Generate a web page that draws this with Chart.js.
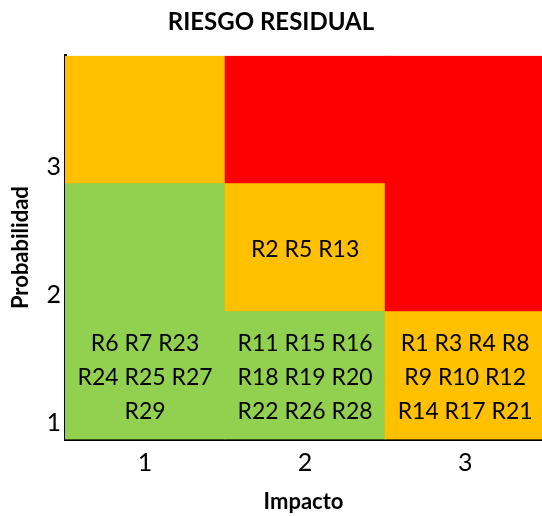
<!DOCTYPE html>
<html>
<head>
<meta charset="utf-8">
<script src="https://cdn.jsdelivr.net/npm/chart.js@4/dist/chart.umd.min.js"></script>
<style>
html,body{margin:0;padding:0;background:#fff;}
canvas{display:block;}
</style>
</head>
<body>
<canvas id="c" width="542" height="516"></canvas>
<script>
// Data
const impacto = [1, 2, 3];                 // x values (columns)
const probabilidad = [1, 2, 3];            // y tick values
const rowRanges = [[0.87, 1.87], [1.87, 2.87], [2.87, 3.87]]; // cell extents per probability row
const levelColors = { bajo: '#92D050', medio: '#FFC000', alto: '#FF0000' };
const levelsRow1 = ['bajo', 'bajo', 'medio'];
const levelsRow2 = ['bajo', 'medio', 'alto'];
const levelsRow3 = ['medio', 'alto', 'alto'];
const labelsRow1 = [
  ['R6 R7 R23', 'R24 R25 R27', 'R29'],
  ['R11 R15 R16', 'R18 R19 R20', 'R22 R26 R28'],
  ['R1 R3 R4 R8', 'R9 R10 R12', 'R14 R17 R21']
];
const labelsRow2 = [[], ['R2 R5 R13'], []];
const labelsRow3 = [[], [], []];

const levels = [levelsRow1, levelsRow2, levelsRow3];
const labels = [labelsRow1, labelsRow2, labelsRow3];

const datasets = rowRanges.map((rng, r) => ({
  data: impacto.map(x => ({ x: x, y: rng })),
  backgroundColor: levels[r].map(l => levelColors[l]),
  borderWidth: 0,
  barPercentage: 1,
  categoryPercentage: 1,
  grouped: false,
  cellLabels: labels[r]
}));

const cellText = {
  id: 'cellText',
  afterDatasetsDraw(chart) {
    const ctx = chart.ctx;
    const xs = chart.scales.x, ys = chart.scales.y;
    ctx.save();
    ctx.fillStyle = '#000';
    ctx.font = '23px Lato';
    ctx.textAlign = 'center';
    ctx.textBaseline = 'middle';
    chart.data.datasets.forEach(ds => {
      ds.data.forEach((d, i) => {
        const lines = ds.cellLabels[i];
        if (!lines.length) return;
        const cx = xs.getPixelForValue(d.x);
        const cy = ys.getPixelForValue((d.y[0] + d.y[1]) / 2) + 2;
        const lh = 34;
        lines.forEach((t, k) => {
          ctx.fillText(t, cx, cy + (k - (lines.length - 1) / 2) * lh);
        });
      });
    });
    ctx.restore();
  }
};

new Chart(document.getElementById('c'), {
  type: 'bar',
  data: { datasets },
  options: {
    responsive: false,
    animation: false,
    layout: { padding: 0 },
    plugins: {
      legend: { display: false },
      tooltip: { enabled: false },
      title: {
        display: true,
        text: 'RIESGO RESIDUAL',
        color: '#000',
        font: { family: 'Lato', size: 24, weight: 'bold' },
        padding: { top: 8, bottom: 19 }
      }
    },
    scales: {
      x: {
        type: 'linear',
        offset: false,
        min: 0.5,
        max: 3.48,
        grid: { display: false, drawTicks: false },
        border: { display: true, color: '#000', width: 3 },
        afterBuildTicks: s => { s.ticks = impacto.map(v => ({ value: v })); },
        ticks: { color: '#000', font: { family: 'Lato', size: 25 }, padding: 8 },
        title: {
          display: true, text: 'Impacto', color: '#000',
          font: { family: 'Lato', size: 22, weight: 'bold' },
          padding: { top: 4, bottom: 1 }
        },
        afterFit: s => { s.height = 76.5; }
      },
      y: {
        type: 'linear',
        min: 0.87,
        max: 3.87,
        grid: { display: false, drawTicks: false },
        border: { display: true, color: '#000', width: 3 },
        afterBuildTicks: s => { s.ticks = probabilidad.map(v => ({ value: v })); },
        ticks: { color: '#000', font: { family: 'Lato', size: 25 }, padding: 4 },
        title: {
          display: true, text: 'Probabilidad', color: '#000',
          font: { family: 'Lato', size: 22, weight: 'bold' },
          padding: { top: 8, bottom: 0 }
        },
        afterFit: s => { s.width = 65; }
      }
    }
  },
  plugins: [cellText]
});
</script>
</body>
</html>
